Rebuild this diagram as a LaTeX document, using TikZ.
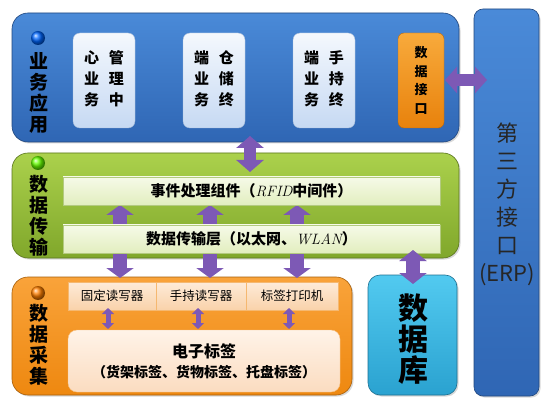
\documentclass[tikz,border=0pt]{standalone}
\usepackage{fontspec}
\newfontfamily\cjk{Noto Sans CJK SC}
\usetikzlibrary{arrows.meta,shadows}
\definecolor{bluetop}{HTML}{4A8AD8}
\definecolor{bluebot}{HTML}{2F66B4}
\definecolor{blueedge}{HTML}{2A5CA0}
\definecolor{boxtop}{HTML}{F4F8FD}
\definecolor{boxbot}{HTML}{C6D9F3}
\definecolor{ifacetop}{HTML}{F8AA3C}
\definecolor{ifacebot}{HTML}{E8820C}
\definecolor{greentop}{HTML}{ABD14C}
\definecolor{greenbot}{HTML}{80A72B}
\definecolor{bartop}{HTML}{F6FAE8}
\definecolor{barbot}{HTML}{E2EEBF}
\definecolor{orangetop}{HTML}{F9A33A}
\definecolor{orangebot}{HTML}{EE8810}
\definecolor{celltop}{HTML}{FEEBD8}
\definecolor{cellbot}{HTML}{F9D2AA}
\definecolor{tagtop}{HTML}{FFF3E8}
\definecolor{tagbot}{HTML}{FBDCC0}
\definecolor{dbtop}{HTML}{52CAF0}
\definecolor{dbbot}{HTML}{2AA2D0}
\definecolor{arrowpurple}{HTML}{7D59B5}
\tikzset{
  panel/.style={rounded corners=16pt, draw=#1!70!black, line width=0.6pt,
    drop shadow={opacity=0.3, shadow xshift=1.5pt, shadow yshift=-1.5pt}},
  innerbox/.style={rounded corners=7pt, top color=boxtop, bottom color=boxbot, draw=blueedge!40, line width=0.4pt},
  barbox/.style={top color=bartop, bottom color=barbot, draw=greenbot!60, line width=0.4pt,
    minimum width=377pt, minimum height=28pt, inner sep=0pt},
  cellbox/.style={top color=celltop, bottom color=cellbot, draw=orangebot!60, line width=0.4pt,
    minimum height=28pt, inner sep=0pt},
  sidelabel/.style={font=\cjk\bfseries\fontsize{19}{21}\selectfont, align=center, inner sep=0pt},
  ball/.style={circle, minimum size=14pt, inner sep=0pt, ball color=#1},
  fat/.style={draw=arrowpurple, line width=#1},
  bitip/.style 2 args={{Triangle[length=#1,width=#2]}-{Triangle[length=#1,width=#2]}},
}
\begin{document}
\begin{tikzpicture}[x=1pt,y=-1pt]
\useasboundingbox (0,0) rectangle (548,403);
\fill[white] (0,0) rectangle (548,403);

% ERP panel
\node[panel=bluebot, rounded corners=9pt, top color=bluetop, bottom color=bluebot,
  minimum width=65pt, minimum height=387pt, inner sep=0pt] (erp) at (506.5,202.5) {};
\node[font=\cjk\fontsize{22}{28}\selectfont, align=center, text=black!85, inner sep=0pt]
  (erptext) at (507,204) {第\\三\\方\\接\\口\\(ERP)};

% Business application panel
\node[panel=bluebot, top color=bluetop, bottom color=bluebot,
  minimum width=447pt, minimum height=129pt, inner sep=0pt] (app) at (235.5,77.5) {};
\node[ball=blue!60!cyan] (appball) at (38,38) {};
\node[sidelabel] (applabel) at (39,93) {业\\务\\应\\用};
\begin{scope}[every node/.append style={font=\cjk\bfseries\fontsize{15}{21}\selectfont, inner sep=0pt,
    minimum width=62pt, minimum height=95pt}]
\node[innerbox] (b1) at (104,80.5) {\setlength\tabcolsep{5pt}\begin{tabular}{cc}心&管\\业&理\\务&中\end{tabular}};
\node[innerbox] (b2) at (214,80.5) {\setlength\tabcolsep{5pt}\begin{tabular}{cc}端&仓\\业&储\\务&终\end{tabular}};
\node[innerbox] (b3) at (324,80.5) {\setlength\tabcolsep{5pt}\begin{tabular}{cc}端&手\\业&持\\务&终\end{tabular}};
\end{scope}
\node[rounded corners=6pt, top color=ifacetop, bottom color=ifacebot, draw=ifacebot!80!black, line width=0.4pt,
  minimum width=46pt, minimum height=95pt, inner sep=0pt,
  font=\cjk\bfseries\fontsize{13}{18.5}\selectfont, align=center] (iface) at (421,80.5) {数\\据\\接\\口};

% Data transfer panel
\node[panel=greenbot, top color=greentop, bottom color=greenbot,
  minimum width=447pt, minimum height=105pt, inner sep=0pt] (trans) at (235.5,205.5) {};
\node[ball=green!60!yellow] (transball) at (38,163) {};
\node[sidelabel] (translabel) at (39,216) {数\\据\\传\\输};

% Data collection panel
\node[panel=orangebot, top color=orangetop, bottom color=orangebot,
  minimum width=340pt, minimum height=118pt, inner sep=0pt] (coll) at (182,336) {};
\node[ball=orange] (collball) at (38,293) {};
\node[sidelabel] (colllabel) at (39,345) {数\\据\\采\\集};

% Database
\node[panel=dbbot, rounded corners=12pt, top color=dbtop, bottom color=dbbot,
  minimum width=89pt, minimum height=120pt, inner sep=0pt] (db) at (412.5,335) {};
\node[font=\cjk\bfseries\fontsize{30}{31}\selectfont, align=center, inner sep=0pt] (dbtext) at (413,339) {数\\据\\库};

% arrows between transfer bars and collection
\coordinate (u1) at (120,205); \coordinate (d1) at (120,278);
\coordinate (u2) at (210,205); \coordinate (d2) at (210,278);
\coordinate (u3) at (297,205); \coordinate (d3) at (297,278);
\foreach \i in {1,2,3}
  \draw[fat=14pt, bitip={10pt}{27pt}] (u\i) -- (d\i);

% bars
\node[barbox, font=\cjk\bfseries\fontsize{15}{18}\selectfont] (bar1) at (251.5,191)
  {事件处理组件（{\rmfamily\mdseries\itshape RFID}中间件）};
\node[barbox, font=\cjk\bfseries\fontsize{15}{18}\selectfont] (bar2) at (251.5,239)
  {数据传输层（以太网、{\rmfamily\mdseries\itshape WLAN}）};

% cells
\node[cellbox, minimum width=88pt, font=\cjk\fontsize{12.5}{14}\selectfont] (c1) at (112,296) {固定读写器};
\node[cellbox, minimum width=90pt, font=\cjk\fontsize{12.5}{14}\selectfont] (c2) at (201,296) {手持读写器};
\node[cellbox, minimum width=92pt, font=\cjk\fontsize{12.5}{14}\selectfont] (c3) at (292,296) {标签打印机};
\node[rounded corners=9pt, top color=tagtop, bottom color=tagbot, draw=orangebot!50, line width=0.4pt,
  minimum width=272pt, minimum height=62pt, inner sep=0pt, align=center,
  font=\cjk\bfseries\fontsize{14}{20}\selectfont] (tag) at (204,361)
  {{\fontsize{16}{20}\selectfont 电子标签}\\（货架标签、货物标签、托盘标签）};

% small arrows cells -> tag
\coordinate (s1a) at (108,308); \coordinate (s1b) at (108,329);
\coordinate (s2a) at (198,308); \coordinate (s2b) at (198,329);
\coordinate (s3a) at (289,308); \coordinate (s3b) at (289,329);
\foreach \i in {1,2,3}
  \draw[fat=5pt, bitip={6pt}{12pt}] (s\i a) -- (s\i b);

% app <-> transfer
\coordinate (ta) at (250,136); \coordinate (tb) at (250,172);
\draw[fat=12pt, bitip={12pt}{27pt}] (ta) -- (tb);
% interface <-> ERP
\coordinate (ha) at (445,80); \coordinate (hb) at (487,80);
\draw[fat=12pt, bitip={12pt}{26pt}] (ha) -- (hb);
% transfer <-> database
\coordinate (da) at (413,250); \coordinate (db2) at (413,284);
\draw[fat=14pt, bitip={11pt}{27pt}] (da) -- (db2);
\end{tikzpicture}
\end{document}
